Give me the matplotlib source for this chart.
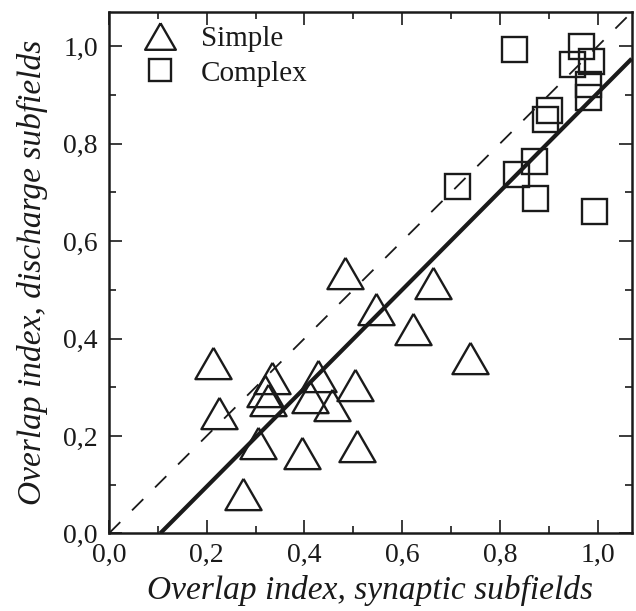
import numpy as np
import matplotlib
matplotlib.use('Agg')
import matplotlib.pyplot as plt
from matplotlib.ticker import MultipleLocator

plt.rcParams['font.family'] = ['Liberation Serif', 'DejaVu Serif']

# простые клетки (треугольники)
simple_x = [0.212, 0.225, 0.484, 0.547, 0.663, 0.622, 0.738, 0.333, 0.320,
            0.326, 0.428, 0.412, 0.456, 0.504, 0.304, 0.395, 0.508, 0.274]
simple_y = [0.349, 0.247, 0.534, 0.461, 0.515, 0.419, 0.361, 0.318, 0.293,
            0.274, 0.324, 0.280, 0.263, 0.305, 0.186, 0.165, 0.180, 0.080]

# сложные клетки (квадраты)
complex_x = [0.829, 0.967, 0.948, 0.987, 0.980, 0.980, 0.900, 0.893, 0.871,
             0.834, 0.872, 0.992, 0.712]
complex_y = [0.995, 1.000, 0.963, 0.971, 0.923, 0.896, 0.870, 0.850, 0.764,
             0.738, 0.689, 0.662, 0.714]

# регрессия
fit_slope = 1.01
fit_x0 = 0.105

ticks = [0.0, 0.2, 0.4, 0.6, 0.8, 1.0]
tick_labels = ['0,0', '0,2', '0,4', '0,6', '0,8', '1,0']
lim = 1.07

tri = [(0, 0.866), (-1, -0.866), (1, -0.866), (0, 0.866)]

fig = plt.figure(figsize=(6.36, 6.11), dpi=100)
ax = fig.add_axes([109/636, 1 - 533.3/611, 522.7/636, 521/611])

xx = np.array([0, lim])
ax.plot(xx, xx, color='#1a1a1a', lw=1.3, dashes=(8.8, 9.2))
xf = np.array([fit_x0, lim])
ax.plot(xf, fit_slope*(xf - fit_x0), color='#1a1a1a', lw=3.0, solid_capstyle='butt')

ax.plot(simple_x, simple_y, ls='none', marker=tri, ms=26, mfc='none',
        mec='#1a1a1a', mew=1.7, label='Simple')
ax.plot(complex_x, complex_y, ls='none', marker='s', ms=18, mfc='none',
        mec='#1a1a1a', mew=1.7, label='Complex')

ax.set_xlim(0, lim)
ax.set_ylim(0, lim)
ax.set_xticks(ticks)
ax.set_xticklabels(tick_labels)
ax.set_yticks(ticks)
ax.set_yticklabels(tick_labels)
ax.xaxis.set_minor_locator(MultipleLocator(0.1))
ax.yaxis.set_minor_locator(MultipleLocator(0.1))
ax.tick_params(which='both', direction='in', top=True, right=True,
               width=1.2, color='#1a1a1a', labelsize=20, labelcolor='#1a1a1a')
ax.tick_params(which='major', length=9.5)
ax.tick_params(which='minor', length=5)
ax.tick_params(axis='x', pad=7)
ax.tick_params(axis='y', pad=8)
for s in ax.spines.values():
    s.set_linewidth(1.8)
    s.set_color('#1a1a1a')

ax.set_xlabel('Overlap index, synaptic subfields', fontsize=24, style='italic',
              color='#1a1a1a', labelpad=5)
ax.set_ylabel('Overlap index, discharge subfields', fontsize=24, style='italic',
              color='#1a1a1a', labelpad=11)

ax.legend(loc='upper left', bbox_to_anchor=(0.064, 0.974), frameon=False,
          fontsize=21, markerscale=0.85, borderaxespad=0, borderpad=0,
          handlelength=1.2, handletextpad=0.8, labelspacing=0.27,
          labelcolor='#1a1a1a')

fig.savefig('out.png', dpi=100)
